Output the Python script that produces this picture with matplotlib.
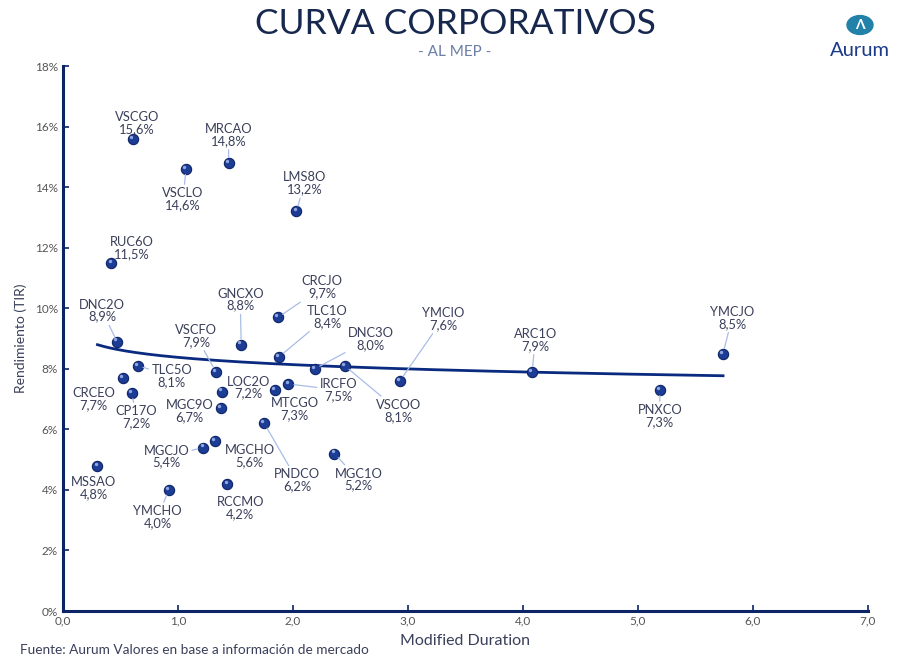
import matplotlib.pyplot as plt
import numpy as np
from matplotlib.patches import Circle

plt.rcParams['font.family'] = ['Lato', 'DejaVu Sans']

tickers = [
    "VSCGO", "MRCAO", "VSCLO", "LMS8O", "RUC6O", "CRCJO", "DNC2O", "GNCXO",
    "TLC1O", "DNC3O", "VSCOO", "YMCIO", "ARC1O", "YMCJO", "PNXCO", "TLC5O",
    "CRCEO", "CP17O", "VSCFO", "LOC2O", "MGC9O", "MTCGO", "IRCFO", "PNDCO",
    "MGCJO", "MGCHO", "MGC1O", "MSSAO", "YMCHO", "RCCMO",
]
duration = [
    0.61, 1.44, 1.07, 2.03, 0.42, 1.87, 0.47, 1.55,
    1.88, 2.19, 2.45, 2.93, 4.08, 5.74, 5.19, 0.65,
    0.52, 0.60, 1.33, 1.38, 1.37, 1.84, 1.96, 1.75,
    1.22, 1.32, 2.36, 0.30, 0.92, 1.43,
]
tir = [
    15.6, 14.8, 14.6, 13.2, 11.5, 9.7, 8.9, 8.8,
    8.4, 8.0, 8.1, 7.6, 7.9, 8.5, 7.3, 8.1,
    7.7, 7.2, 7.9, 7.25, 6.7, 7.3, 7.5, 6.2,
    5.4, 5.6, 5.2, 4.8, 4.0, 4.2,
]

# label offsets in pixels (dx, dy) and whether a leader line is drawn
label_pos = {
    "VSCGO": (4, 16, False), "MRCAO": (0, 28, True), "VSCLO": (-3, -30, True),
    "LMS8O": (8, 28, True), "RUC6O": (21, 15, False), "CRCJO": (44, 30, True),
    "DNC2O": (-15, 31, True), "GNCXO": (-1, 45, True), "TLC1O": (48, 40, True),
    "DNC3O": (56, 30, True), "VSCOO": (54, -45, True), "YMCIO": (43, 62, True),
    "ARC1O": (3, 32, True), "YMCJO": (9, 36, True), "PNXCO": (0, -26, True),
    "TLC5O": (34, -10, True), "CRCEO": (-29, -21, False), "CP17O": (4, -24, True),
    "VSCFO": (-20, 36, True), "LOC2O": (27, 4, False), "MGC9O": (-31, -3, False),
    "MTCGO": (20, -19, False), "IRCFO": (50, -6, True), "PNDCO": (33, -57, True),
    "MGCJO": (-37, -9, True), "MGCHO": (35, -15, False), "MGC1O": (24, -26, True),
    "MSSAO": (-4, -22, False), "YMCHO": (-11, -27, True), "RCCMO": (13, -24, False),
}

navy = '#0b2466'
fig = plt.figure(figsize=(9.1, 6.61), dpi=100)
ax = fig.add_axes([0.0692, 0.0756, 0.8846, 0.8244])

# logarithmic trend line fitted to the points
x = np.array(duration)
y = np.array(tir)
b, a = np.polyfit(np.log(x), y, 1)
xt = np.linspace(x.min(), x.max(), 200)
ax.plot(xt, a + b * np.log(xt), color='#0a2a80', lw=2, zorder=2)

ax.scatter(x, y, s=55, color='#1c3c96', edgecolor='#0d2466', linewidth=0.8, zorder=3)
ax.scatter(x - 0.015, y + 0.07, s=6, color='#8fa6e0', linewidth=0, zorder=4)

for name, dx, dy in zip(tickers, duration, tir):
    ox, oy, leader = label_pos[name]
    label = f"{name}\n{dy:.1f}%".replace('.', ',')
    ax.annotate(label, (dx, dy), xytext=(ox, oy), textcoords='offset pixels',
                ha='center', va='center', fontsize=9.3, color='#3a3f5a',
                linespacing=1.0, zorder=5,
                arrowprops=dict(arrowstyle='-', color='#a9bde8', lw=0.9,
                                shrinkA=0, shrinkB=4) if leader else None)

ax.set_xlim(0, 7)
ax.set_ylim(0, 18)
ax.set_xticks(np.arange(0, 7.1, 1))
ax.set_xticklabels([f"{v:.1f}".replace('.', ',') for v in np.arange(0, 7.1, 1)])
ax.set_yticks(np.arange(0, 19, 2))
ax.set_yticklabels([f"{v}%" for v in range(0, 19, 2)])
ax.tick_params(direction='in', length=4, width=1.2, color=navy,
               labelsize=8.5, labelcolor='#555555')
for s in ['top', 'right']:
    ax.spines[s].set_visible(False)
for s in ['left', 'bottom']:
    ax.spines[s].set_color(navy)
    ax.spines[s].set_linewidth(2.2)

ax.set_xlabel("Modified Duration", fontsize=11.5, color='#3a3f5a', labelpad=5)
ax.set_ylabel("Rendimiento (TIR)", fontsize=10, color='#3a3f5a', labelpad=6)

fig.text(0.5, 0.963, "CURVA CORPORATIVOS", ha='center', va='center',
         fontsize=25.5, color='#17284f')
fig.text(0.5, 0.922, "- AL MEP -", ha='center', va='center',
         fontsize=11, color='#6d7fa6')
fig.text(0.022, 0.016, "Fuente: Aurum Valores en base a información de mercado",
         ha='left', va='center', fontsize=9.8, color='#3a3f5a')

# logo
logo = Circle((860 / 910, 1 - 25 / 661), 13 / 910, transform=fig.transFigure,
              color='#2281a8', zorder=10)
fig.patches.append(logo)
fig.text(860 / 910, 1 - 25 / 661, "Λ", ha='center', va='center', fontsize=10,
         color='white', fontweight='bold', zorder=11)
fig.text(860 / 910, 1 - 51 / 661, "Aurum", ha='center', va='center',
         fontsize=14.5, color='#1b3a8a')

fig.savefig('out.png', dpi=100)
